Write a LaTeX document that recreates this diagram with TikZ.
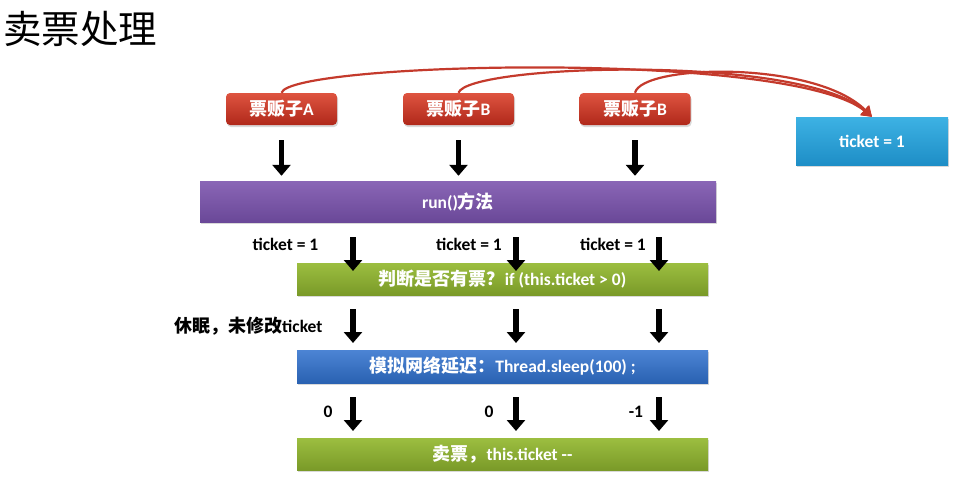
\documentclass[tikz,border=0pt]{standalone}
\usepackage{fontspec}
\setmainfont{Carlito}
\newfontfamily\cjk{Noto Sans CJK SC}
\usetikzlibrary{arrows.meta,shadows}
\definecolor{redtop}{HTML}{DE5440}
\definecolor{redbot}{HTML}{B0281A}
\definecolor{purtop}{HTML}{8A66B6}
\definecolor{purbot}{HTML}{6A4898}
\definecolor{grntop}{HTML}{9CBE40}
\definecolor{grnbot}{HTML}{7A9A28}
\definecolor{blutop}{HTML}{4C84D4}
\definecolor{blubot}{HTML}{2A62B2}
\definecolor{skytop}{HTML}{3DB2E4}
\definecolor{skybot}{HTML}{1E8EC6}
\definecolor{curvered}{HTML}{C43A2C}
\newcommand{\cjt}[1]{{\cjk\bfseries\fontsize{18}{20}\selectfont #1}}
\newcommand{\lat}[1]{{\bfseries\fontsize{17.5}{20}\selectfont #1}}
\tikzset{
  seller/.style={rounded corners=4pt, minimum width=111pt, minimum height=32pt,
    top color=redtop, bottom color=redbot, draw=none, text=white, inner sep=0pt,
    drop shadow={shadow xshift=1pt, shadow yshift=-2pt, opacity=0.3}},
  bar/.style={minimum height=33pt, draw=none, text=white, inner sep=0pt,
    drop shadow={shadow xshift=1pt, shadow yshift=-2pt, opacity=0.3}},
  bigarrow/.style={line width=5.5pt, -{Triangle[width=18pt,length=11pt]}},
  lbl/.style={text=black, inner sep=0pt},
  flow/.style={line width=2.2pt, draw=curvered, -{Triangle[width=12pt,length=10pt]}}
}
\begin{document}
\begin{tikzpicture}[x=1pt,y=-1pt]
\useasboundingbox (0,0) rectangle (959,477);
\node[anchor=west, inner sep=0pt, font=\cjk\fontsize{38.5}{42}\selectfont] (title) at (3,29) {卖票处理};

\node[seller] (sa) at (281.5,109) {\cjt{票贩子}\lat{A}};
\node[seller] (sb) at (458.5,109) {\cjt{票贩子}\lat{B}};
\node[seller] (sc) at (635,109) {\cjt{票贩子}\lat{B}};

\node[bar, minimum width=152pt, minimum height=48pt, top color=skytop, bottom color=skybot] (tk) at (872,141) {\lat{ticket = 1}};

\node[bar, minimum width=516pt, minimum height=41pt, top color=purtop, bottom color=purbot] (run) at (458,201.5) {\lat{run()}\cjt{方法}};

\node[bar, minimum width=411pt, minimum height=32pt, top color=grntop, bottom color=grnbot] (chk) at (502.5,279)
  {\cjt{判断是否有票？}\lat{if (this.ticket > 0)}};

\node[bar, minimum width=411pt, minimum height=33pt, top color=blutop, bottom color=blubot] (slp) at (502.5,366.5)
  {\cjt{模拟网络延迟：}\lat{Thread.sleep(100) ;}};

\node[bar, minimum width=411pt, minimum height=32pt, top color=grntop, bottom color=grnbot] (sell) at (502.5,454)
  {\cjt{卖票，}\lat{this.ticket -{}-}};

% curves to ticket
\draw[flow] (sa.north) .. controls (290,62) and (790,50) .. (tk.north);
\draw[flow] (sb.north) .. controls (468,64) and (800,54) .. (tk.north);
\draw[flow] (sc.north) .. controls (642,64) and (815,60) .. (tk.north);

% arrows seller -> run
\foreach \s in {sa,sb,sc}{
  \draw[bigarrow, shorten >=5pt] (\s.south) ++(0,15) coordinate (\s-a) -- (\s-a |- run.north);
}

% labels
\node[lbl] (t1) at (285.5,244) {\lat{ticket = 1}};
\node[lbl] (t2) at (469,244) {\lat{ticket = 1}};
\node[lbl] (t3) at (613,244) {\lat{ticket = 1}};
\node[lbl, anchor=west] (rest) at (174,326) {\cjt{休眠，未修改}\lat{ticket}};
\node[lbl] (z1) at (328,412) {\lat{0}};
\node[lbl] (z2) at (489,412) {\lat{0}};
\node[lbl] (z3) at (636,412) {\lat{-1}};

% arrow coordinates
\foreach \x/\n in {353/a,516/b,659/c}{
  \coordinate (p\n1) at (\x,237);
  \coordinate (q\n1) at (\x,271);
  \coordinate (p\n2) at (\x,309);
  \coordinate (q\n2) at (\x,343);
  \coordinate (p\n3) at (\x,397);
  \coordinate (q\n3) at (\x,431);
  \draw[bigarrow] (p\n1) -- (q\n1);
  \draw[bigarrow] (p\n2) -- (q\n2);
  \draw[bigarrow] (p\n3) -- (q\n3);
}
\end{tikzpicture}
\end{document}
